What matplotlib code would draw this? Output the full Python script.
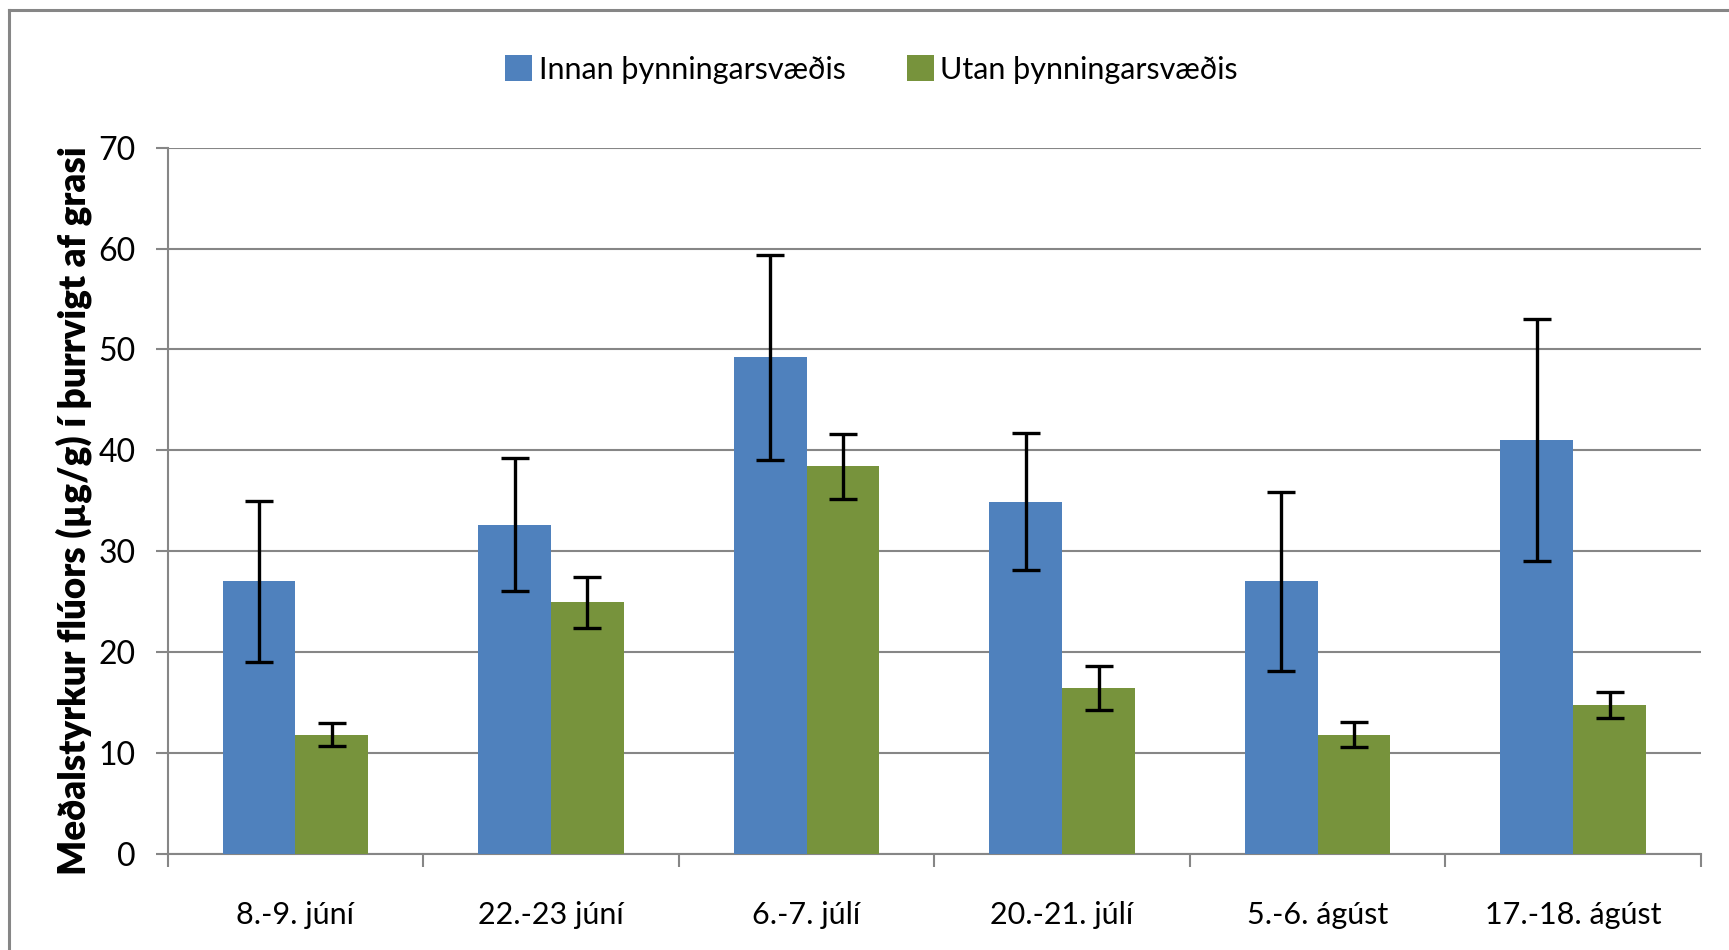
import matplotlib
matplotlib.use("Agg")
import matplotlib.pyplot as plt
import numpy as np
from matplotlib.lines import Line2D
from matplotlib.patches import Patch

categories = ["8.-9. júní", "22.-23 júní", "6.-7. júlí", "20.-21. júlí", "5.-6. ágúst", "17.-18. ágúst"]
innan = [27.0, 32.6, 49.2, 34.9, 27.0, 41.0]
innan_err = [8.0, 6.6, 10.2, 6.8, 8.9, 12.0]
utan = [11.8, 24.9, 38.4, 16.4, 11.8, 14.7]
utan_err = [1.1, 2.5, 3.2, 2.2, 1.2, 1.3]
series_names = ["Innan þynningarsvæðis", "Utan þynningarsvæðis"]
yticks = [0, 10, 20, 30, 40, 50, 60, 70]

BLUE = "#4F81BD"
GREEN = "#77933C"
GRAY = "#868686"

plt.rcParams['font.family'] = ['Lato', 'DejaVu Sans']

fig = plt.figure(figsize=(17.29, 9.5), dpi=100)
ax = fig.add_axes([167.6/1729, 1-853.5/950, (1701-167.6)/1729, (853.5-147.8)/950])

x = np.arange(len(categories))
w = 0.285
ekw = dict(elinewidth=2.4, capthick=2.4, ecolor="black")
ax.bar(x - w/2, innan, w, color=BLUE, yerr=innan_err, capsize=10, error_kw=ekw, zorder=3)
ax.bar(x + w/2, utan, w, color=GREEN, yerr=utan_err, capsize=10, error_kw=ekw, zorder=3)

ax.set_xlim(-0.5, len(categories) - 0.5)
ax.set_ylim(0, 70)
ax.set_yticks(yticks)
ax.set_yticklabels([str(t) for t in yticks], fontsize=23)
ax.yaxis.grid(True, color=GRAY, linewidth=1.5, zorder=0)
ax.set_axisbelow(True)

# x ticks at group boundaries, labels at centers
ax.set_xticks(np.arange(-0.5, len(categories), 1.0))
ax.set_xticklabels([])
ax.set_xticks(x, minor=True)
ax.set_xticklabels(categories, minor=True, fontsize=22)
ax.tick_params(axis='x', which='major', direction='out', length=9, width=1.5, color=GRAY)
ax.tick_params(axis='x', which='minor', length=0, pad=34)
ax.tick_params(axis='y', direction='out', length=9, width=1.5, color=GRAY, pad=14)

for s in ['top', 'right']:
    ax.spines[s].set_visible(False)
for s in ['left', 'bottom']:
    ax.spines[s].set_color(GRAY)
    ax.spines[s].set_linewidth(1.5)

fig.text(74/1729, 1-511/950, "Meðalstyrkur flúors (µg/g) í þurrvigt af grasi",
         rotation=90, ha='center', va='center', fontsize=26.5, fontweight='heavy')

handles = [Patch(facecolor=BLUE), Patch(facecolor=GREEN)]
fig.legend(handles, series_names, loc='center', bbox_to_anchor=(0.504, 1-69.5/950),
           ncol=2, frameon=False, fontsize=22, handlelength=0.9, handleheight=0.9,
           handletextpad=0.2, columnspacing=2.0)

# chart area border (top and left visible)
fig.add_artist(Line2D([9/1729, 1.0], [1-10/950, 1-10/950], transform=fig.transFigure, color=GRAY, linewidth=2.2))
fig.add_artist(Line2D([9/1729, 9/1729], [0, 1-10/950], transform=fig.transFigure, color=GRAY, linewidth=2.2))

fig.savefig("out.png", dpi=100)
